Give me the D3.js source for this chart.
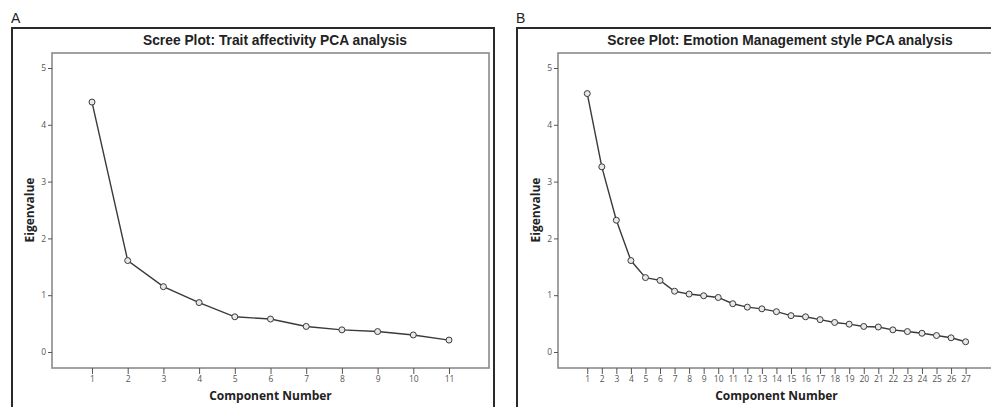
<!DOCTYPE html>
<html>
<head>
<meta charset="utf-8">
<script src="https://cdn.jsdelivr.net/npm/d3@7"></script>
<style>
  body { margin: 0; background: #fff; }
  svg { display: block; }
</style>
</head>
<body>
<div class="chartsWrapper"></div>
<script>
// eigenvalues
var traitComponents = d3.range(1, 12)
var traitEigen = [4.40, 1.61, 1.15, 0.87, 0.62, 0.58, 0.45, 0.39, 0.36, 0.30, 0.21]

var emotionComponents = d3.range(1, 28)
var emotionEigen = [4.55, 3.26, 2.32, 1.61, 1.31, 1.26, 1.07, 1.02, 0.99, 0.96,
                    0.85, 0.79, 0.76, 0.71, 0.64, 0.62, 0.57, 0.52, 0.49, 0.45,
                    0.44, 0.39, 0.36, 0.33, 0.29, 0.25, 0.18]

var yTicks = [0, 1, 2, 3, 4, 5]

var svg = d3.select('.chartsWrapper')
            .append('svg')
            .attr('width', 991)
            .attr('height', 407)

// one panel = outer frame + plot box + axes + line
function renderScree(opts){

    var g = svg.append('g')

    // panel letter
    g.append('text')
     .attr('x', opts.frame[0] - 1)
     .attr('y', 23)
     .style('font-family', 'Liberation Sans, Arial, sans-serif')
     .style('font-size', '14px')
     .style('fill', '#222')
     .text(opts.letter)

    // outer frame
    g.append('rect')
     .attr('x', opts.frame[0])
     .attr('y', 28)
     .attr('width', opts.frame[1] - opts.frame[0])
     .attr('height', 400)
     .style('fill', 'none')
     .style('stroke', '#2a2a2a')
     .style('stroke-width', 2)

    var x = d3.scaleLinear().domain(opts.xDomain).range([opts.box[0], opts.box[1]])
    var y = d3.scaleLinear().domain([0, 5]).range([352, 68])

    // plot box
    g.append('rect')
     .attr('x', opts.box[0])
     .attr('y', 53)
     .attr('width', opts.box[1] - opts.box[0])
     .attr('height', 368 - 53)
     .style('fill', '#fff')
     .style('stroke', '#8a8a8a')
     .style('stroke-width', 1.6)

    // title
    g.append('text')
     .attr('x', opts.titleX)
     .attr('y', 45)
     .attr('text-anchor', 'middle')
     .style('font-family', 'Liberation Sans, Arial, sans-serif')
     .style('font-weight', 'bold')
     .style('font-size', '13.8px')
     .style('fill', '#222')
     .text(opts.title)

    // y axis
    var yAxis = g.append('g')
                 .attr('transform', 'translate(' + opts.box[0] + ',0)')
                 .call(d3.axisLeft(y).tickValues(yTicks).tickSize(4).tickPadding(2).tickFormat(d3.format('d')))
    yAxis.select('.domain').remove()
    yAxis.selectAll('line').style('stroke', '#555')
    yAxis.selectAll('text')
         .style('font-family', 'Open Sans, sans-serif')
         .style('font-size', '8.5px')
         .style('fill', '#555')

    // x axis
    var xAxis = g.append('g')
                 .attr('transform', 'translate(0,368)')
                 .call(d3.axisBottom(x).tickValues(opts.categories).tickSize(6).tickPadding(2).tickFormat(d3.format('d')))
    xAxis.select('.domain').remove()
    xAxis.selectAll('line').style('stroke', '#555')
    xAxis.selectAll('text')
         .style('font-family', 'Open Sans, sans-serif')
         .style('font-size', '8.5px')
         .style('fill', '#555')

    // axis titles
    g.append('text')
     .attr('x', (opts.box[0] + Math.min(opts.box[1], 995)) / 2)
     .attr('y', 400)
     .attr('text-anchor', 'middle')
     .style('font-family', 'Open Sans, sans-serif')
     .style('font-weight', 'bold')
     .style('font-size', '12px')
     .style('fill', '#222')
     .text('Component Number')

    g.append('text')
     .attr('transform', 'translate(' + (opts.box[0] - 18) + ',210) rotate(-90)')
     .attr('text-anchor', 'middle')
     .style('font-family', 'Open Sans, sans-serif')
     .style('font-weight', 'bold')
     .style('font-size', '12px')
     .style('fill', '#222')
     .text('Eigenvalue')

    var pts = opts.categories.map(function(c, i){ return {c: c, v: opts.values[i]} })

    var line = d3.line()
                 .x(function(d){ return x(d.c) })
                 .y(function(d){ return y(d.v) })

    g.append('path')
     .datum(pts)
     .attr('d', line)
     .style('fill', 'none')
     .style('stroke', '#3a3a3a')
     .style('stroke-width', 1.4)

    g.selectAll('.pt')
     .data(pts)
     .enter()
     .append('circle')
     .attr('class', 'pt')
     .attr('cx', function(d){ return x(d.c) })
     .attr('cy', function(d){ return y(d.v) })
     .attr('r', 3)
     .style('fill', '#e8e8e8')
     .style('stroke', '#3a3a3a')
     .style('stroke-width', 1)
}

renderScree({
    letter: 'A',
    frame: [12, 494],
    box: [52, 489],
    xDomain: [-0.12, 12.12],
    titleX: 275,
    title: 'Scree Plot: Trait affectivity PCA analysis',
    categories: traitComponents,
    values: traitEigen
})

renderScree({
    letter: 'B',
    frame: [517, 1010],
    box: [558, 1002],
    xDomain: [-1.01, 29.5],
    titleX: 780,
    title: 'Scree Plot: Emotion Management style PCA analysis',
    categories: emotionComponents,
    values: emotionEigen
})
</script>
</body>
</html>
